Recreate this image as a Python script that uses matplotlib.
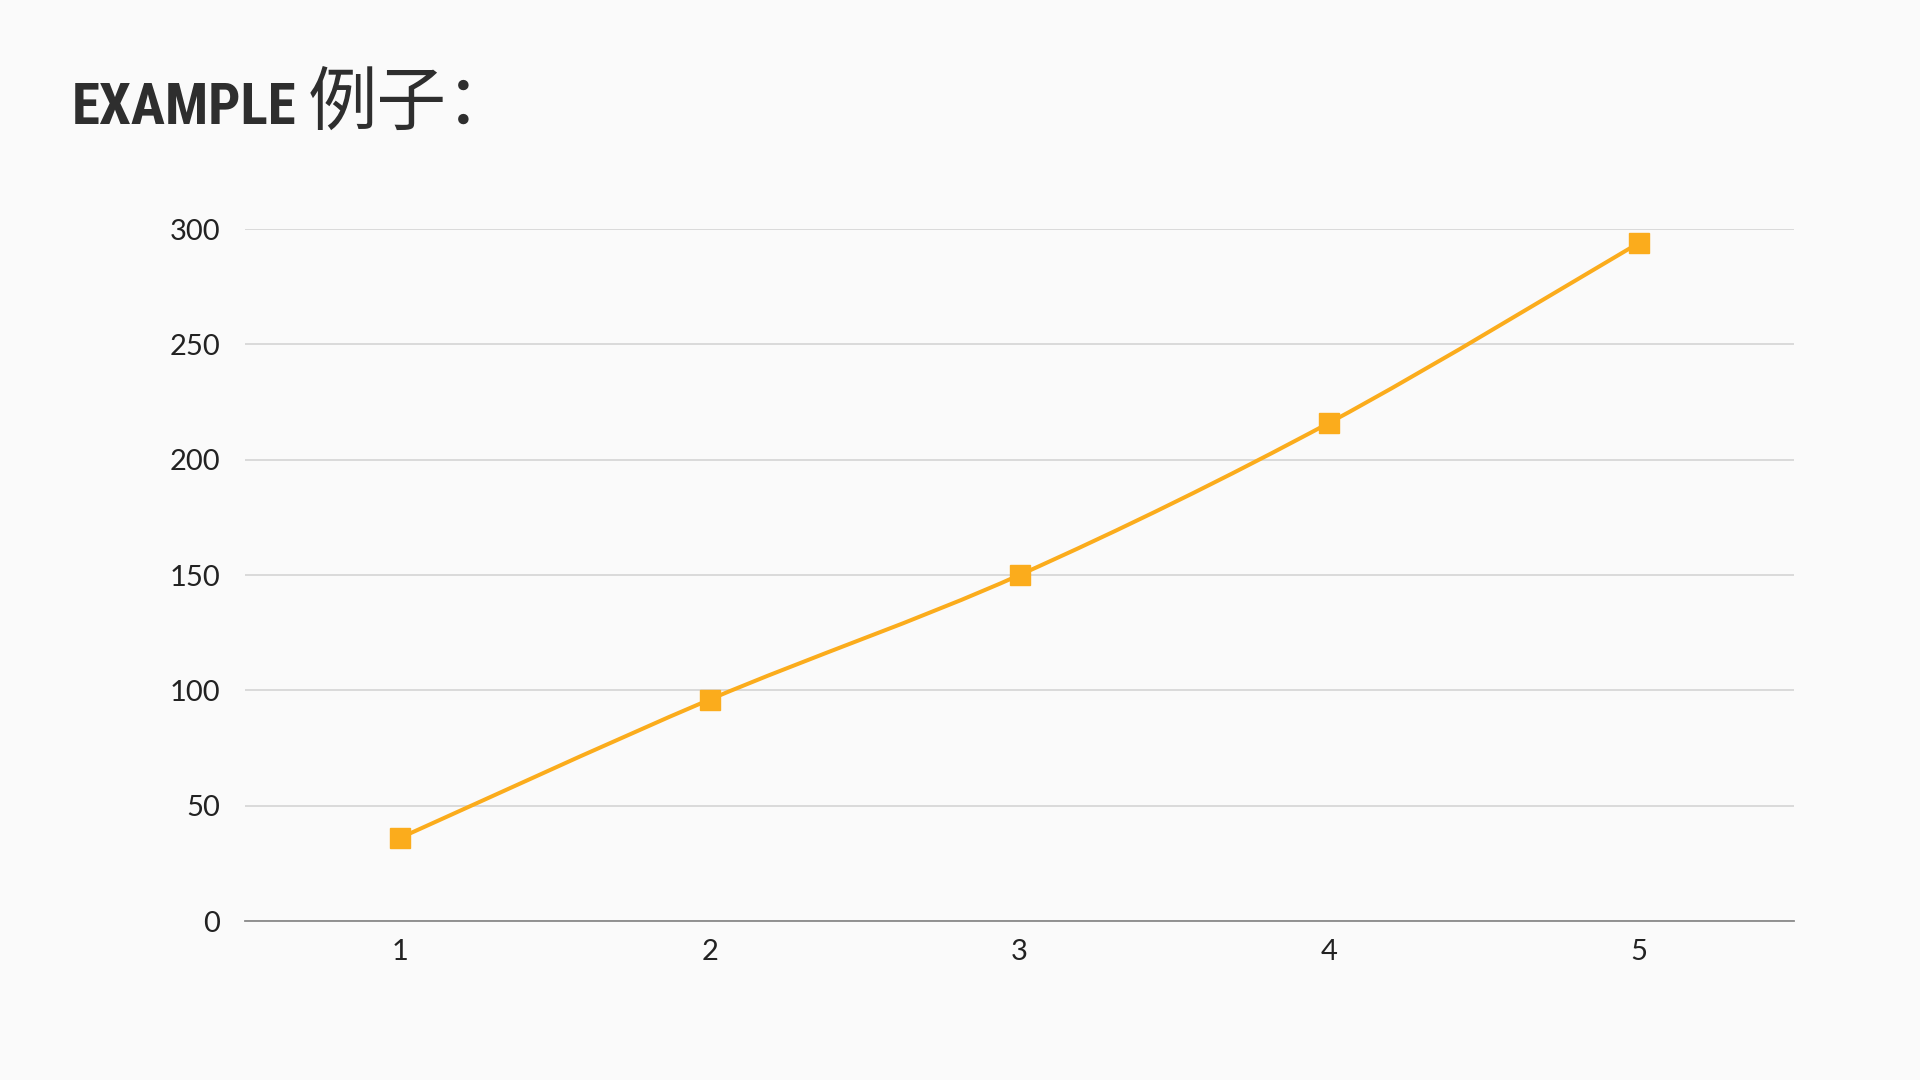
import matplotlib
matplotlib.use('Agg')
import matplotlib.pyplot as plt
from matplotlib.path import Path
from matplotlib.patches import PathPatch

# data
x_vals = [1, 2, 3, 4, 5]
y_vals = [36, 96, 150, 216, 294]
y_ticks = [0, 50, 100, 150, 200, 250, 300]

bg = '#FAFAFA'
orange = '#FBAC1C'

plt.rcParams['font.family'] = ['Lato', 'DejaVu Sans']

fig = plt.figure(figsize=(19.2, 10.8), dpi=100, facecolor=bg)
ax = fig.add_axes([245 / 1920, 1 - 921 / 1080, (1794 - 245) / 1920, (921 - 229) / 1080])
ax.set_facecolor(bg)

# smooth line (catmull-rom as bezier)
pts = list(zip(x_vals, y_vals))
verts = [pts[0]]
codes = [Path.MOVETO]
for i in range(len(pts) - 1):
    p0 = pts[i - 1] if i > 0 else pts[i]
    p1 = pts[i]
    p2 = pts[i + 1]
    p3 = pts[i + 2] if i + 2 < len(pts) else pts[i + 1]
    c1 = (p1[0] + (p2[0] - p0[0]) / 6, p1[1] + (p2[1] - p0[1]) / 6)
    c2 = (p2[0] - (p3[0] - p1[0]) / 6, p2[1] - (p3[1] - p1[1]) / 6)
    verts += [c1, c2, p2]
    codes += [Path.CURVE4] * 3
ax.add_patch(PathPatch(Path(verts, codes), fill=False, edgecolor=orange, lw=2.9, zorder=3))
ax.plot(x_vals, y_vals, ls='none', marker='s', ms=14, color=orange, zorder=4)

ax.set_xlim(0.5, 5.5)
ax.set_ylim(0, 300)
ax.set_xticks(x_vals)
ax.set_yticks(y_ticks)
ax.grid(axis='y', color='#D4D4D4', lw=1.2)
ax.set_axisbelow(True)
for s in ['top', 'right', 'left']:
    ax.spines[s].set_visible(False)
ax.spines['bottom'].set_color('#8A8A8A')
ax.spines['bottom'].set_linewidth(1.3)
ax.spines['bottom'].set_zorder(2)
ax.tick_params(axis='both', length=0, labelsize=21, labelcolor='#222222')
ax.tick_params(axis='y', pad=18)
ax.tick_params(axis='x', pad=13)

# title - brush font not available, so shrink a bold font to the same width
t1 = fig.text(72 / 1920, 1 - 124 / 1080, 'EXAMPLE', fontsize=44, fontweight='bold',
              family=['Roboto Condensed', 'DejaVu Sans'], color='#2E2E2E', va='baseline')
r = fig.canvas.get_renderer()
w = t1.get_window_extent(r).width
if w > 225:
    t1.set_fontsize(44 * 225 / w)
fig.text(308 / 1920, 1 - 124 / 1080, '例子：', fontsize=50,
         family=['Noto Sans CJK SC', 'DejaVu Sans'], color='#2E2E2E', va='baseline')

fig.savefig('out.png', dpi=100, facecolor=bg)
